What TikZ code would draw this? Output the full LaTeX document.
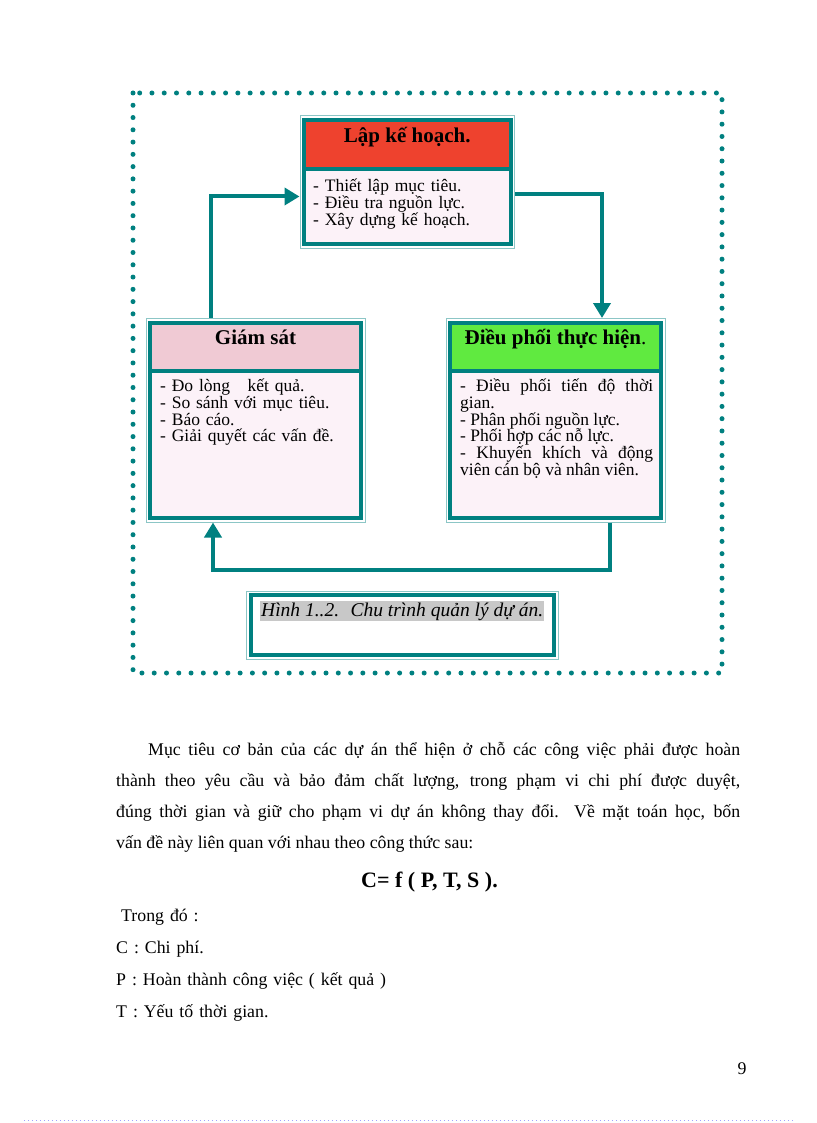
\documentclass[tikz,border=0pt]{standalone}
\usepackage{fontspec}
\setmainfont{Liberation Serif}
\usetikzlibrary{positioning,arrows.meta,fit}
\definecolor{frameteal}{RGB}{0,128,128}
\definecolor{titlered}{RGB}{238,66,46}
\definecolor{titlegreen}{RGB}{96,234,64}
\definecolor{titlepink}{RGB}{240,202,212}
\definecolor{bodypink}{RGB}{252,242,248}
\definecolor{markgray}{RGB}{200,200,200}
\definecolor{breakblue}{RGB}{160,160,255}
\setlength{\fboxsep}{1pt}

\begin{document}
\begin{tikzpicture}[
    x=1pt, y=-1pt,
    dotframe/.style={
        draw=frameteal,
        line width=5pt,
        line cap=round,
        dash pattern=on 0pt off 12.27pt
    },
    cardhead/.style={
        draw=frameteal,
        fill=#1,
        line width=4pt,
        anchor=north west,
        outer sep=0pt,
        inner sep=0pt,
        minimum width=211pt,
        minimum height=48pt,
        text height=15pt,
        text depth=19pt,
        font=\fontsize{21}{24}\selectfont\bfseries
    },
    cardbody/.style={
        draw=frameteal,
        fill=bodypink,
        line width=4pt,
        outer sep=0pt,
        inner sep=0pt,
        minimum width=211pt,
        minimum height=#1
    },
    cardedge/.style={
        draw=frameteal!45,
        line width=1pt,
        inner sep=4pt
    },
    cardtext/.style={
        anchor=base west,
        inner sep=0pt,
        text width=#1,
        align=left,
        font=\fontsize{17.5}{16.8}\selectfont
    },
    flow/.style={-{Triangle[length=15pt,width=17pt]}, line width=4pt, draw=frameteal},
    bodytext/.style={
        anchor=base west,
        inner sep=0pt,
        font=\fontsize{17.8}{31}\selectfont
    },
    pagemark/.style={draw=breakblue, line width=0.8pt, dash pattern=on 0.8pt off 3.2pt}
]

\useasboundingbox (0,0) rectangle (816,1123);

\draw[dotframe] (133,93) rectangle (722,673);

\node[cardhead=titlered, minimum width=206.5pt, minimum height=49.5pt] (lkhT) at (304,120) {Lập kế hoạch.};
\node[cardbody=74.5pt, minimum width=206.5pt, below=0pt of lkhT] (lkhB) {};
\node[cardedge, fit=(lkhT)(lkhB)] (lkh) {};
\node[cardtext=195pt] (lkhL) at ([xshift=9pt,yshift=-22pt]lkhB.north west)
    {- Thiết lập mục tiêu.\\- Điều tra nguồn lực.\\- Xây dựng kế hoạch.};

\node[cardhead=titlepink] (gsT) at (150,322.5) {Giám sát};
\node[cardbody=147.5pt, below=0pt of gsT] (gsB) {};
\node[cardedge, fit=(gsT)(gsB)] (gs) {};
\node[cardtext=195pt] (gsL) at ([xshift=10pt,yshift=-21pt]gsB.north west)
    {- Đo lòng~~ kết quả.\\- So sánh với mục tiêu.\\- Báo cáo.\\- Giải quyết các vấn đề.};

\node[cardhead=titlegreen] (dpT) at (450,322.5) {Điều phối thực hiện\textmd{.}};
\node[cardbody=147.5pt, below=0pt of dpT] (dpB) {};
\node[cardedge, fit=(dpT)(dpB)] (dp) {};
\node[cardtext=193pt, align=justify] (dpL) at ([xshift=10pt,yshift=-21pt]dpB.north west)
    {- Điều phối tiến độ thời\linebreak gian.\\- Phân phối nguồn lực.\\- Phối hợp các nỗ lực.\\- Khuyến khích và động\linebreak viên cán bộ và nhân viên.};

\draw[flow] ([xshift=65.5pt]gs.north west) |- ([yshift=-14.5pt]lkh.west);
\draw[flow] ([yshift=-12.5pt]lkh.east) -| ([xshift=46.5pt]dp.north);
\draw[flow] ([xshift=54pt]dp.south) -- ++(0,47.5) -| ([xshift=-42.5pt]gs.south);

\node[draw=frameteal, line width=4pt, fill=white, anchor=north west, outer sep=0pt, inner sep=0pt,
    minimum width=303.5pt, minimum height=60pt] (cap) at (250.5,595) {};
\node[cardedge, fit=(cap)] (capedge) {};
\node[anchor=base west, inner sep=0pt, font=\fontsize{19.5}{21}\selectfont\itshape] (capL)
    at ([xshift=9.5pt,yshift=-21pt]cap.north west) {\colorbox{markgray}{Hình 1..2.~ Chu trình quản lý dự án.}};

\node[bodytext, text width=624pt, align=justify] (para) at (116,755)
    {\hspace*{32pt}Mục tiêu cơ bản của các dự án thể hiện ở chỗ các công việc phải được hoàn\linebreak
    thành theo yêu cầu và bảo đảm chất lượng, trong phạm vi chi phí được duyệt,\linebreak
    đúng thời gian và giữ cho phạm vi dự án không thay đổi. Về mặt toán học, bốn\linebreak
    vấn đề này liên quan với nhau theo công thức sau:};
\node[bodytext, anchor=base, font=\fontsize{22}{24}\selectfont\bfseries] (eq) at (429.5,887) {C= f ( P, T, S ).};
\node[bodytext, text width=600pt, align=left, font=\fontsize{17.8}{32.3}\selectfont] (terms) at (116,921)
    {\hspace*{5pt}Trong đó :\\C : Chi phí.\\P : Hoàn thành công việc ( kết quả )\\T : Yếu tố thời gian.};
\node[bodytext, anchor=base] (pageno) at (742,1074) {9};

\draw[pagemark] (24,1120) -- (795,1120);

\end{tikzpicture}
\end{document}
